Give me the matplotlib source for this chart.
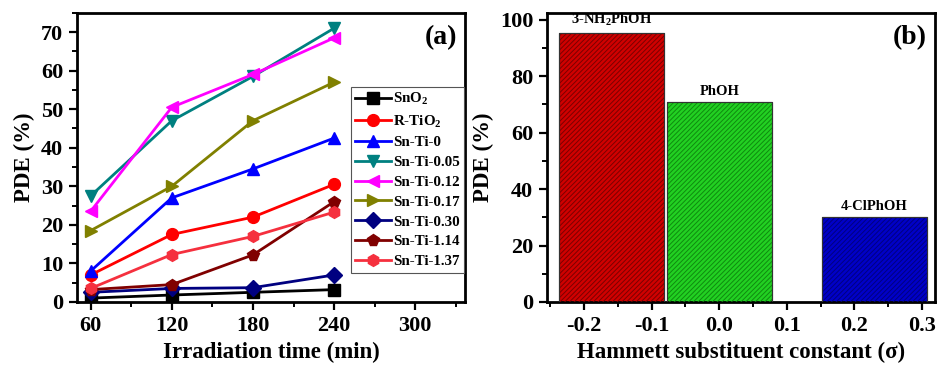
import matplotlib
matplotlib.use("Agg")
import matplotlib.pyplot as plt
from matplotlib.ticker import MultipleLocator

plt.rcParams['font.family'] = ['Liberation Serif', 'DejaVu Serif']
plt.rcParams['font.weight'] = 'bold'
plt.rcParams['mathtext.fontset'] = 'custom'
plt.rcParams['mathtext.rm'] = 'Liberation Serif:bold'
plt.rcParams['mathtext.bf'] = 'Liberation Serif:bold'
plt.rcParams['mathtext.default'] = 'bf'
plt.rcParams['hatch.linewidth'] = 0.7

# (a) degradation vs irradiation time
times = [60, 120, 180, 240]
labels = ['SnO$_2$', 'R-TiO$_2$', 'Sn-Ti-0', 'Sn-Ti-0.05', 'Sn-Ti-0.12',
          'Sn-Ti-0.17', 'Sn-Ti-0.30', 'Sn-Ti-1.14', 'Sn-Ti-1.37']
sno2 = [1.0, 1.8, 2.5, 3.2]
r_tio2 = [7.0, 17.5, 22.0, 30.5]
snti_0 = [8.0, 27.0, 34.5, 42.5]
snti_005 = [27.5, 47.0, 58.5, 71.0]
snti_012 = [23.5, 50.5, 59.0, 68.5]
snti_017 = [18.5, 30.0, 47.0, 57.0]
snti_030 = [2.5, 3.5, 3.7, 7.0]
snti_114 = [3.2, 4.5, 12.2, 26.0]
snti_137 = [3.5, 12.3, 17.0, 23.3]
series = [sno2, r_tio2, snti_0, snti_005, snti_012, snti_017, snti_030, snti_114, snti_137]
colors = ['#000000', '#FF0000', '#0000FF', '#008080', '#FF00FF',
          '#808000', '#000080', '#800000', '#F5303E']
markers = ['s', 'o', '^', 'v', '<', '>', 'D', 'p', 'h']

# (b) PDE vs Hammett constant
sigma = [-0.16, 0.0, 0.23]
pde = [95.5, 71.0, 30.0]
phenols = ['3-NH$_2$PhOH', 'PhOH', '4-ClPhOH']
bar_colors = ['#D00000', '#22D022', '#0000C8']
hatch_colors = ['#7A0000', '#0F8A0F', '#000080']

fig = plt.figure(figsize=(9.4, 3.66), dpi=100)
ax1 = fig.add_axes([0.082, 0.175, 0.413, 0.790])
ax2 = fig.add_axes([0.582, 0.175, 0.413, 0.790])

for y, lab, c, m in zip(series, labels, colors, markers):
    ax1.plot(times, y, color=c, marker=m, lw=2.0, ms=8.5, label=lab)

ax1.set_xlim(50, 337)
ax1.set_ylim(0, 75)
ax1.xaxis.set_major_locator(MultipleLocator(60))
ax1.xaxis.set_minor_locator(MultipleLocator(30))
ax1.yaxis.set_major_locator(MultipleLocator(10))
ax1.yaxis.set_minor_locator(MultipleLocator(5))
ax1.set_xlabel('Irradiation time (min)', fontsize=16.5, fontweight='bold', labelpad=4)
ax1.set_ylabel('PDE (%)', fontsize=16.5, fontweight='bold', labelpad=4)
ax1.text(0.979, 0.915, '(a)', transform=ax1.transAxes, fontsize=20,
         fontweight='bold', ha='right', va='center')
leg = ax1.legend(loc='upper right', bbox_to_anchor=(0.997, 0.745), fontsize=10.8,
                 handlelength=2.4, handletextpad=0.1, labelspacing=0.42,
                 borderpad=0.3, borderaxespad=0, fancybox=False,
                 edgecolor='#555555', framealpha=1)
leg.get_frame().set_linewidth(0.8)

for x, h, c, hc in zip(sigma, pde, bar_colors, hatch_colors):
    ax2.bar(x, h, width=0.156, color=c, edgecolor='#333333', linewidth=0.8, zorder=2)
    ax2.bar(x, h, width=0.156, color='none', edgecolor=hc, hatch='///////',
            linewidth=0, zorder=3)
    ax2.bar(x, h, width=0.156, color='none', edgecolor='#333333', linewidth=0.8, zorder=4)
for x, h, name in zip(sigma, pde, phenols):
    ax2.annotate(name, (x, h), xytext=(0, 3), textcoords='offset points',
                 ha='center', va='bottom', fontsize=10.5, fontweight='bold')

ax2.set_xlim(-0.255, 0.32)
ax2.set_ylim(0, 102.5)
ax2.xaxis.set_minor_locator(MultipleLocator(0.05))
ax2.yaxis.set_major_locator(MultipleLocator(20))
ax2.yaxis.set_minor_locator(MultipleLocator(10))
ax2.set_xticks([-0.2, -0.1, 0.0, 0.1, 0.2, 0.3])
ax2.set_xticklabels(['-0.2', '-0.1', '0.0', '0.1', '0.2', '0.3'])
ax2.set_xlabel('Hammett substituent constant (σ)', fontsize=16.5, fontweight='bold', labelpad=4)
ax2.set_ylabel('PDE (%)', fontsize=16.5, fontweight='bold', labelpad=4)
ax2.text(0.979, 0.915, '(b)', transform=ax2.transAxes, fontsize=20,
         fontweight='bold', ha='right', va='center')

for ax in (ax1, ax2):
    for s in ax.spines.values():
        s.set_linewidth(2.0)
    ax.tick_params(which='major', direction='out', length=6, width=1.6,
                   labelsize=16, pad=4)
    ax.tick_params(which='minor', direction='out', length=3.5, width=1.4)
    for t in ax.get_xticklabels() + ax.get_yticklabels():
        t.set_fontweight('bold')

fig.savefig('out.png', dpi=100)
